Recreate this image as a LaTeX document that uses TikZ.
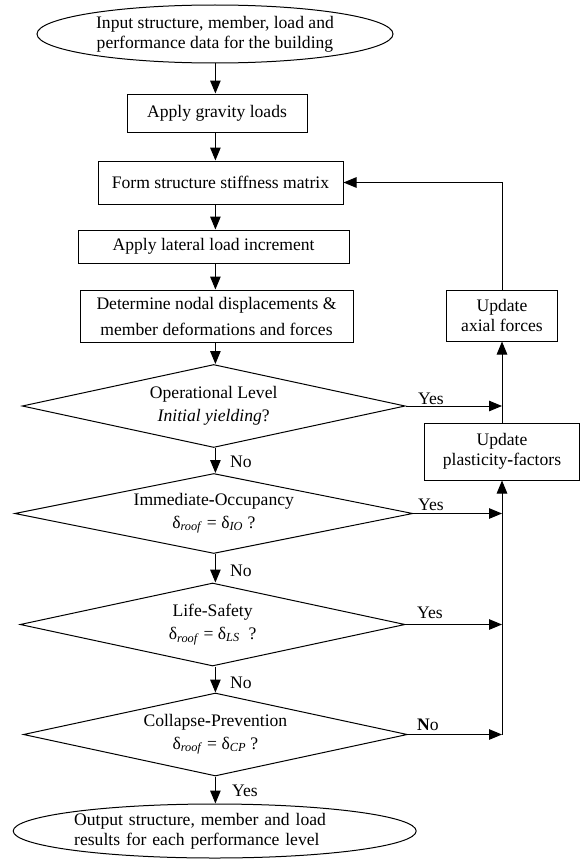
\documentclass[tikz,border=0pt]{standalone}
\usepackage{fontspec}
\setmainfont{Liberation Serif}
\usetikzlibrary{shapes.geometric,arrows.meta}
\tikzset{
  base/.style={draw, line width=1pt, font=\fontsize{17.6}{20}\selectfont, inner sep=0pt, align=center},
  procbox/.style={base, rectangle},
  termin/.style={base, ellipse},
  decis/.style={base, diamond, shape aspect=4.8, font=\fontsize{17.6}{22.5}\selectfont},
  arr/.style={line width=1pt, -{Triangle[length=13pt,width=10.5pt]}},
  lbl/.style={font=\fontsize{17.6}{20}\selectfont, inner sep=0pt, anchor=west},
}
\begin{document}
\begin{tikzpicture}[x=1pt,y=-1pt]
\useasboundingbox (0,0) rectangle (584,859);
\coordinate (ax) at (215.4,0);
\node[termin, minimum width=356pt, minimum height=58pt] (start) at (215,34) {Input structure, member, load and\\performance data for the building};
\node[procbox, minimum width=180pt, minimum height=38pt] (grav) at (217,113) {Apply gravity loads};
\node[procbox, minimum width=245pt, minimum height=43pt] (stiff) at (220.5,182.5) {Form structure stiffness matrix};
\node[procbox, minimum width=271pt, minimum height=33pt] (lat) at (213.6,246.5) {Apply lateral load increment};
\node[procbox, minimum width=273pt, minimum height=52pt, font=\fontsize{17.6}{26}\selectfont] (det) at (216.5,316) {Determine nodal displacements \&\\member deformations and forces};
\node[decis, minimum width=383pt, minimum height=83pt] (op) at (213.7,406) {Operational Level\\\textit{Initial yielding}?};
\node[decis, minimum width=398pt, minimum height=80pt] (io) at (213.8,513.5) {Immediate\textbf{-}Occupancy\\δ\textsubscript{\textit{roof}} = δ\textsubscript{\textit{IO}} ?};
\node[decis, minimum width=385pt, minimum height=83pt] (ls) at (212.6,624.5) {Life-Safety\\δ\textsubscript{\textit{roof}} = δ\textsubscript{\textit{LS}}\ \ ?};
\node[decis, minimum width=384pt, minimum height=83pt] (cp) at (215.4,734.5) {Collapse\textbf{-}Prevention\\δ\textsubscript{\textit{roof}} = δ\textsubscript{\textit{CP}} ?};
\node[termin, minimum width=403pt, minimum height=54pt, text width=281pt, align=left] (out) at (214.7,831) {Output structure, member and load\\results for each performance level};
\node[procbox, minimum width=111pt, minimum height=51pt] (axial) at (502,315.5) {Update\\axial forces};
\node[procbox, minimum width=155pt, minimum height=57pt] (plast) at (502,451.5) {Update\\plasticity\textbf{-}factors};
\node[lbl] (yOp) at (418,399) {Yes};
\node[lbl] (nOp) at (230,462) {No};
\node[lbl] (yIO) at (418,505) {Yes};
\node[lbl] (nIO) at (230,571) {No};
\node[lbl] (yLS) at (417,613) {Yes};
\node[lbl] (nLS) at (230,683) {No};
\node[lbl] (nCP) at (417,725) {\textbf{N}o};
\node[lbl] (yOut) at (232,791) {Yes};
\draw[arr] (start.south -| ax) -- (grav.north -| ax);
\draw[arr] (grav.south -| ax) -- (stiff.north -| ax);
\draw[arr] (stiff.south -| ax) -- (lat.north -| ax);
\draw[arr] (lat.south -| ax) -- (det.north -| ax);
\draw[arr] (det.south -| ax) -- (op.north -| ax);
\draw[arr] (op.south -| ax) -- (io.north -| ax);
\draw[arr] (io.south -| ax) -- (ls.north -| ax);
\draw[arr] (ls.south -| ax) -- (cp.north -| ax);
\draw[arr] (cp.south -| ax) -- (out.north -| ax);
\draw[arr] (op.east) -- (op.east -| plast.north);
\draw[arr] (io.east) -- (io.east -| plast.south);
\draw[arr] (ls.east) -- (ls.east -| plast.south);
\coordinate (cpj) at (cp.east -| plast.south);
\draw[arr] (cp.east) -- (cpj);
\draw[arr] (cpj) -- (plast.south);
\draw[arr] (plast.north) -- (axial.south);
\draw[arr] (axial.north) |- (stiff.east);
\end{tikzpicture}
\end{document}
